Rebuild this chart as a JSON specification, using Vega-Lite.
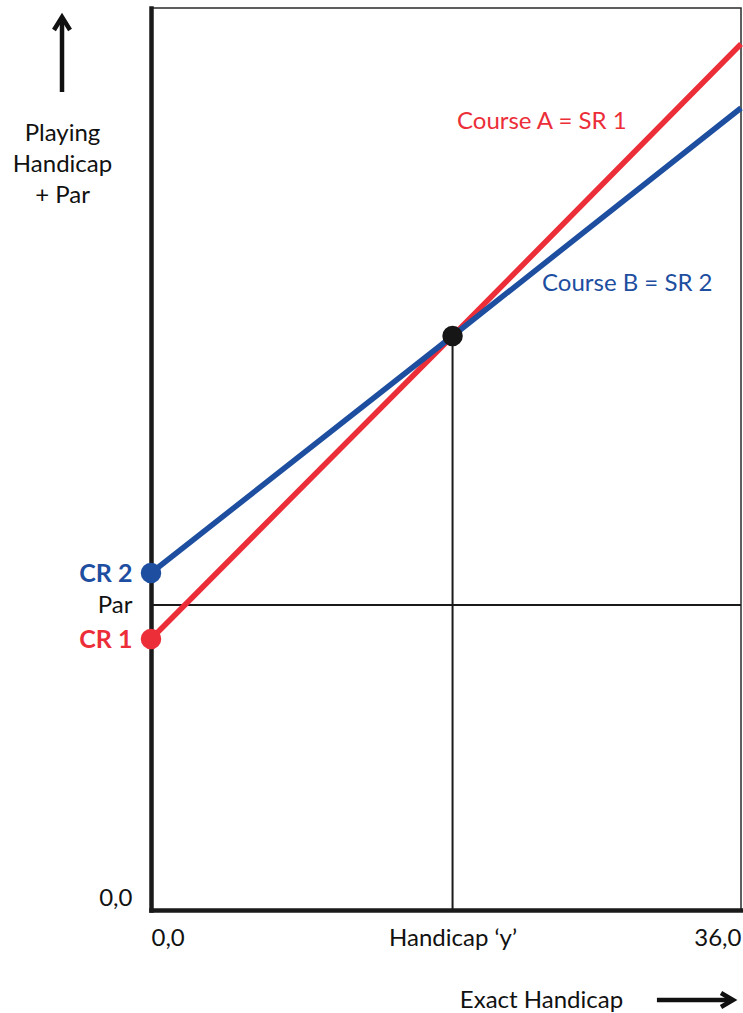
{
  "$schema": "https://vega.github.io/schema/vega-lite/v6.json",
  "width": 590,
  "height": 902,
  "autosize": {"type": "none"},
  "padding": {"left": 151, "top": 8, "right": 2, "bottom": 103},
  "background": "white",
  "config": {
    "font": "Lato",
    "view": {"stroke": "#2a2a2a", "strokeWidth": 1.5}
  },
  "datasets": {
    "courses": [
      {"course": "A", "x": 0, "y": 271},
      {"course": "A", "x": 18.4, "y": 574},
      {"course": "A", "x": 36, "y": 866},
      {"course": "B", "x": 0, "y": 337},
      {"course": "B", "x": 18.4, "y": 574},
      {"course": "B", "x": 36, "y": 802}
    ],
    "guides": [
      {"x": 0, "y": 305, "x2": 36, "y2": 305},
      {"x": 18.4, "y": 0, "x2": 18.4, "y2": 574}
    ],
    "labels": [
      {"course": "A", "label": "Course A = SR 1", "x": 18.67, "y": 788},
      {"course": "B", "label": "Course B = SR 2", "x": 23.86, "y": 626}
    ],
    "arrows": [
      {"part": "up_shaft", "i": 0, "x": -5.43, "y": 818},
      {"part": "up_shaft", "i": 1, "x": -5.43, "y": 892},
      {"part": "up_head", "i": 0, "x": -5.92, "y": 880},
      {"part": "up_head", "i": 1, "x": -5.43, "y": 893},
      {"part": "up_head", "i": 2, "x": -4.94, "y": 880},
      {"part": "right_shaft", "i": 0, "x": 30.87, "y": -90},
      {"part": "right_shaft", "i": 1, "x": 35.45, "y": -90},
      {"part": "right_head", "i": 0, "x": 34.78, "y": -83},
      {"part": "right_head", "i": 1, "x": 35.51, "y": -90},
      {"part": "right_head", "i": 2, "x": 34.78, "y": -97}
    ]
  },
  "encoding": {
    "x": {
      "field": "x",
      "type": "quantitative",
      "scale": {"domain": [0, 36], "nice": false, "zero": false},
      "axis": {
        "values": [0, 18.4, 36],
        "labelExpr": "datum.value == 0 ? '0,0' : datum.value == 36 ? '36,0' : 'Handicap ‘y’'",
        "labelFlush": true,
        "labelOverlap": false,
        "labelFont": "Lato",
        "labelFontSize": 24,
        "labelColor": "#111111",
        "labelPadding": 16,
        "ticks": false,
        "tickSize": 0,
        "grid": false,
        "domainColor": "#1a1a1a",
        "domainWidth": 4.5,
        "domainCap": "square",
        "title": "Exact Handicap",
        "titleFont": "Lato",
        "titleFontSize": 24,
        "titleFontWeight": "normal",
        "titleColor": "#111111",
        "titleX": 390,
        "titleY": 90,
        "titleAlign": "center",
        "titleBaseline": "middle"
      }
    },
    "y": {
      "field": "y",
      "type": "quantitative",
      "scale": {"domain": [0, 902], "nice": false, "zero": false},
      "axis": {
        "values": [0, 271, 305, 337],
        "labelExpr": "datum.value == 0 ? '0,0' : datum.value == 271 ? 'CR 1' : datum.value == 305 ? 'Par' : 'CR 2'",
        "labelFlush": true,
        "labelOverlap": false,
        "labelFont": "Lato",
        "labelFontSize": {"condition": {"test": "datum.value == 271 || datum.value == 337", "value": 25}, "value": 24},
        "labelFontWeight": {"condition": {"test": "datum.value == 271 || datum.value == 337", "value": "bold"}, "value": "normal"},
        "labelColor": {"condition": [{"test": "datum.value == 271", "value": "#EC2E39"}, {"test": "datum.value == 337", "value": "#1D4E9F"}], "value": "#111111"},
        "labelPadding": 19,
        "ticks": false,
        "tickSize": 0,
        "grid": false,
        "domainColor": "#1a1a1a",
        "domainWidth": 4.5,
        "domainCap": "square",
        "title": ["Playing", "Handicap", "+ Par"],
        "titleFont": "Lato",
        "titleFontSize": 24,
        "titleFontWeight": "normal",
        "titleColor": "#111111",
        "titleAngle": 0,
        "titleX": -89,
        "titleY": 125,
        "titleAlign": "center",
        "titleBaseline": "middle",
        "titleLineHeight": 31
      }
    }
  },
  "layer": [
    {
      "data": {"name": "guides"},
      "mark": {"type": "rule", "color": "#1a1a1a", "strokeWidth": 2},
      "encoding": {
        "x2": {"field": "x2"},
        "y2": {"field": "y2"}
      }
    },
    {
      "data": {"name": "courses"},
      "mark": {"type": "line", "strokeWidth": 5.5, "strokeCap": "butt"},
      "encoding": {
        "color": {"field": "course", "type": "nominal", "scale": {"domain": ["A", "B"], "range": ["#EC2E39", "#1D4E9F"]}, "legend": null}
      }
    },
    {
      "data": {"name": "courses"},
      "transform": [{"filter": "datum.x == 0"}],
      "mark": {"type": "point", "filled": true, "size": 420, "opacity": 1},
      "encoding": {
        "color": {"field": "course", "type": "nominal", "scale": {"domain": ["A", "B"], "range": ["#EC2E39", "#1D4E9F"]}, "legend": null}
      }
    },
    {
      "data": {"name": "courses"},
      "transform": [{"filter": "datum.x == 18.4 && datum.course == 'A'"}],
      "mark": {"type": "point", "filled": true, "size": 420, "opacity": 1, "color": "#161616"}
    },
    {
      "data": {"name": "labels"},
      "mark": {"type": "text", "align": "left", "baseline": "middle", "fontSize": 24, "font": "Lato"},
      "encoding": {
        "text": {"field": "label"},
        "color": {"field": "course", "type": "nominal", "scale": {"domain": ["A", "B"], "range": ["#EC2E39", "#1D4E9F"]}, "legend": null}
      }
    },
    {
      "data": {"name": "arrows"},
      "mark": {"type": "line", "strokeWidth": 4.5, "color": "#111111", "strokeJoin": "miter", "strokeCap": "butt"},
      "encoding": {
        "detail": {"field": "part"},
        "order": {"field": "i", "type": "quantitative"}
      }
    }
  ]
}
